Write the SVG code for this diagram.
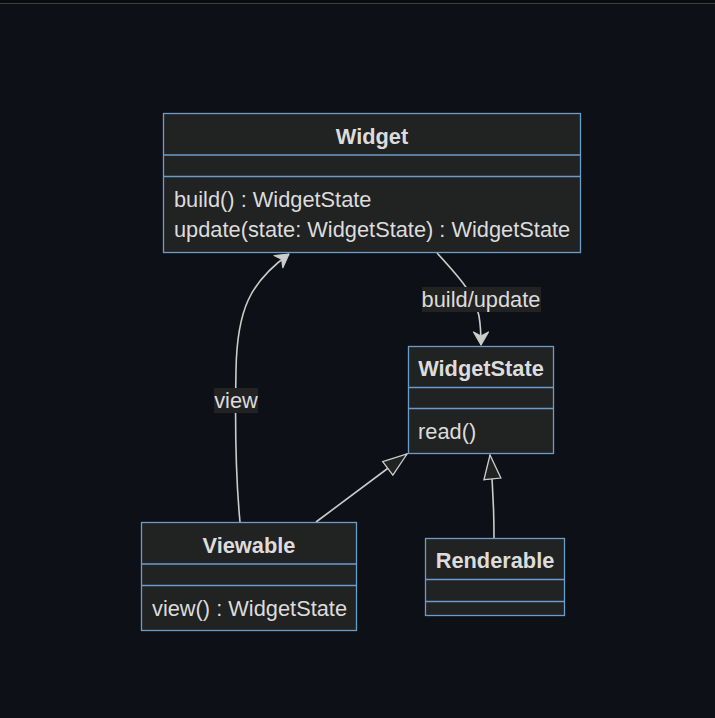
<svg xmlns="http://www.w3.org/2000/svg" width="715" height="718" viewBox="0 0 715 718">
<defs>
<style>
.box{fill:#212222;stroke:#6c9cc9;stroke-width:1.3}
.div{stroke:#6c9cc9;stroke-width:1.3}
.t{font-family:"Liberation Sans",Arial,sans-serif;font-size:21.8px;fill:#dcdcdc}
.b{font-weight:bold;text-anchor:middle}
.e{fill:none;stroke:#cccccc;stroke-width:1.6}
.lb{fill:#222222}
</style>
<marker id="vee" viewBox="0 0 16 18" refX="14" refY="9" markerWidth="16" markerHeight="18" markerUnits="userSpaceOnUse" orient="auto">
<path d="M1,1.5 L14,9 L1,16.5 L5,9 Z" fill="#cccccc" stroke="#cccccc" stroke-width="1.2" stroke-linejoin="round"/>
</marker>
<marker id="tri" viewBox="0 0 27 20" refX="25" refY="10" markerWidth="27" markerHeight="20" markerUnits="userSpaceOnUse" orient="auto">
<path d="M1,1.5 L25,10 L1,18.5 Z" fill="#212222" stroke="#cccccc" stroke-width="1.3"/>
</marker>
</defs>
<rect x="0" y="0" width="715" height="718" fill="#0d1117"/>
<rect x="0" y="0" width="715" height="3" fill="#090b0f"/>
<line x1="0" y1="3.5" x2="715" y2="3.5" stroke="#3b3f45" stroke-width="1"/>
<g id="edges">
<path class="e" d="M240,522 C236,480 235,420 236,370 C237,310 250,282 289,254" marker-end="url(#vee)"/>
<path class="e" d="M437,253 C460,278 475,295 479,316 C481,328 481,336 481,345" marker-end="url(#vee)"/>
<path class="e" d="M316,522 L407,454" marker-end="url(#tri)"/>
<path class="e" d="M494,538 C494,510 493,485 490,455" marker-end="url(#tri)"/>
</g>
<g id="label-view">
<rect class="lb" x="214" y="388" width="44" height="25"/>
<text class="t" x="236" y="408" text-anchor="middle">view</text>
</g>
<g id="label-build">
<rect class="lb" x="422" y="287" width="119" height="25"/>
<text class="t" x="481" y="307" text-anchor="middle">build/update</text>
</g>
<g id="Widget">
<rect class="box" x="163.5" y="113.5" width="417" height="139"/>
<line class="div" x1="163.5" y1="155" x2="580.5" y2="155"/>
<line class="div" x1="163.5" y1="176.5" x2="580.5" y2="176.5"/>
<text class="t b" x="372" y="144">Widget</text>
<text class="t" x="174" y="207">build() : WidgetState</text>
<text class="t" x="174" y="237">update(state: WidgetState) : WidgetState</text>
</g>
<g id="WidgetState">
<rect class="box" x="408.5" y="346.5" width="145" height="107"/>
<line class="div" x1="408.5" y1="387.5" x2="553.5" y2="387.5"/>
<line class="div" x1="408.5" y1="408.5" x2="553.5" y2="408.5"/>
<text class="t b" x="481" y="376">WidgetState</text>
<text class="t" x="418" y="439">read()</text>
</g>
<g id="Viewable">
<rect class="box" x="141.5" y="522.5" width="215" height="108"/>
<line class="div" x1="141.5" y1="564" x2="356.5" y2="564"/>
<line class="div" x1="141.5" y1="585.5" x2="356.5" y2="585.5"/>
<text class="t b" x="249" y="553">Viewable</text>
<text class="t" x="152" y="616">view() : WidgetState</text>
</g>
<g id="Renderable">
<rect class="box" x="425.5" y="538.5" width="139" height="77"/>
<line class="div" x1="425.5" y1="579.5" x2="564.5" y2="579.5"/>
<line class="div" x1="425.5" y1="601.5" x2="564.5" y2="601.5"/>
<text class="t b" x="495" y="568">Renderable</text>
</g>
</svg>
